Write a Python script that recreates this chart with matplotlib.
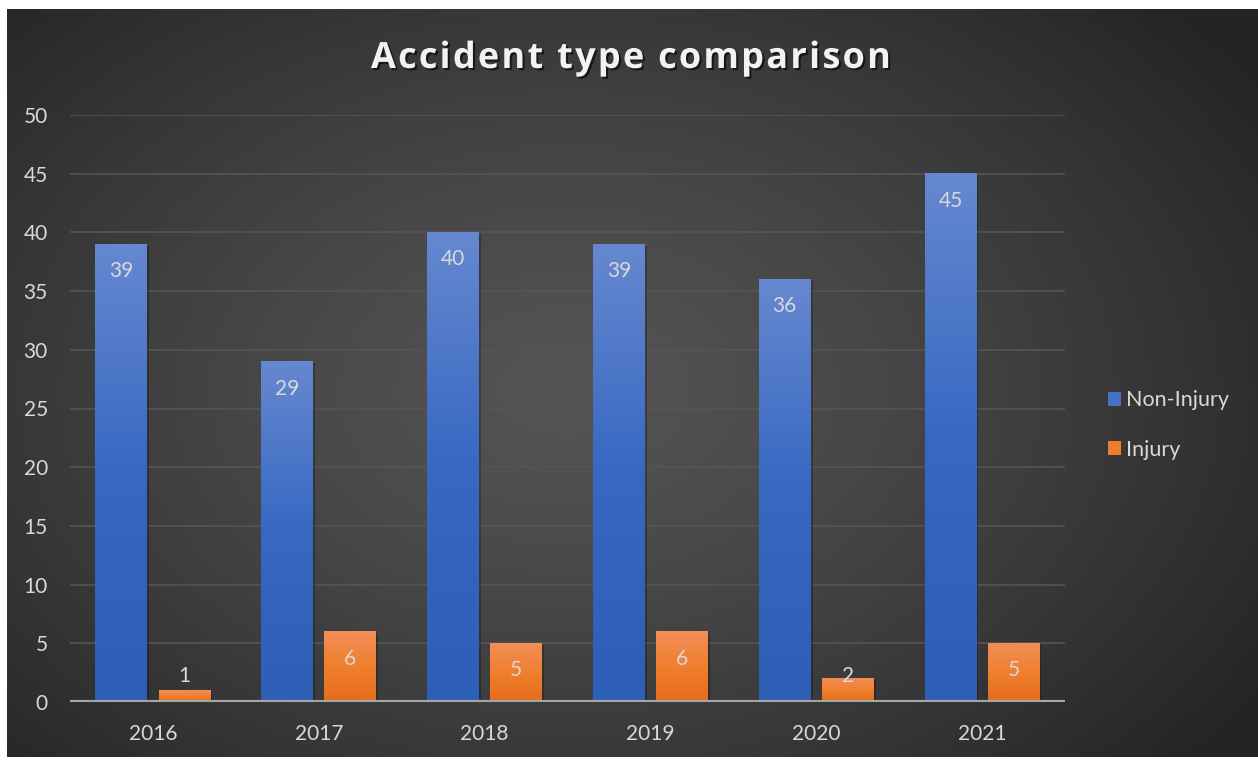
import matplotlib
matplotlib.use("Agg")
import matplotlib.pyplot as plt
import matplotlib.patheffects as pe
import numpy as np
from matplotlib.colors import LinearSegmentedColormap
from matplotlib.font_manager import FontProperties

# data
years = ["2016", "2017", "2018", "2019", "2020", "2021"]
non_injury = [39, 29, 40, 39, 36, 45]
injury = [1, 6, 5, 6, 2, 5]
series_names = ["Non-Injury", "Injury"]
title = "Accident type comparison"

W, H = 1258, 763
plt.rcParams['font.family'] = ['Lato', 'DejaVu Sans']
txt_col = '#d9d9d9'

fig = plt.figure(figsize=(W / 100, H / 100), dpi=100)
fig.patch.set_facecolor('white')

# dark radial background panel
bg = fig.add_axes([7 / W, 6 / H, (W - 7) / W, 748 / H])
bg.axis('off')
yy, xx = np.mgrid[0:748, 0:W - 7]
d = np.sqrt(((xx - 560) / 820.) ** 2 + ((yy - 380) / 560.) ** 2)
d = np.clip(d, 0, 1) ** 1.3
c0, c1 = np.array([0x54, 0x54, 0x54]) / 255., np.array([0x25, 0x25, 0x25]) / 255.
img = c0[None, None, :] * (1 - d[..., None]) + c1[None, None, :] * d[..., None]
bg.imshow(img, aspect='auto', extent=[0, 1, 0, 1], origin='upper')
bg.set_xlim(0, 1)
bg.set_ylim(0, 1)

# plot area
ax = fig.add_axes([70 / W, (H - 702) / H, 995 / W, 587 / H])
ax.patch.set_alpha(0)
x = np.arange(len(years))
bw = 0.3125
off = 0.19

blue_cmap = LinearSegmentedColormap.from_list('b', ['#2e5fb7', '#3768c2', '#6688d0'])
orange_cmap = LinearSegmentedColormap.from_list('o', ['#e56c1a', '#f07f2e', '#f28e58'])

b1 = ax.bar(x - off, non_injury, bw, color='#4472c4', zorder=3, label=series_names[0])
b2 = ax.bar(x + off, injury, bw, color='#ed7d31', zorder=3, label=series_names[1])

grad = np.linspace(0, 1, 256)[:, None]
for bars, cmap in ((b1, blue_cmap), (b2, orange_cmap)):
    for p in bars:
        x0, w, h = p.get_x(), p.get_width(), p.get_height()
        # soft shadow
        ax.add_patch(plt.Rectangle((x0 + 0.012, 0), w, h - 0.15, color='black',
                                   alpha=0.25, zorder=2, lw=0))
        ax.imshow(grad, cmap=cmap, aspect='auto', origin='lower',
                  extent=[x0, x0 + w, 0, h], zorder=4)

ax.set_xlim(-0.5, len(years) - 0.5)
ax.set_ylim(0, 50)

# gridlines and axis line
for v in range(5, 51, 5):
    ax.axhline(v, color='#555555', lw=1.2, zorder=1)
ax.axhline(0, color='#a6a6a6', lw=3, zorder=5)

for s in ax.spines.values():
    s.set_visible(False)
ax.set_yticks(range(0, 51, 5))
ax.set_xticks(x)
ax.set_xticklabels(years)
ax.tick_params(axis='both', length=0, colors=txt_col, labelsize=15)
ax.tick_params(axis='y', pad=16)
ax.tick_params(axis='x', pad=16)

# data labels (inside end)
for xs, vals in ((x - off, non_injury), (x + off, injury)):
    for xi, v in zip(xs, vals):
        ax.text(xi, max(v - 2.3, 2.2), str(v), ha='center', va='center',
                color=txt_col, fontsize=15, zorder=6)

# letter-spaced title
renderer = fig.canvas.get_renderer()
fp = FontProperties(family=['Open Sans', 'DejaVu Sans'], weight='bold', size=26)
widths = [renderer.get_text_width_height_descent(ch, fp, ismath=False)[0] for ch in title]
left, right = 371, 891
gap = (right - left - sum(widths)) / (len(title) - 1)
cx = left
for ch, w in zip(title, widths):
    fig.text(cx / W, (H - 68) / H, ch, fontproperties=fp, color='#f2f2f2',
             ha='left', va='baseline',
             path_effects=[pe.SimplePatchShadow(offset=(1.5, -1.5), shadow_rgbFace='black', alpha=0.6),
                           pe.Normal()])
    cx += w + gap

# legend
fig.legend(handles=[b1, b2], labels=series_names, loc='center left',
           bbox_to_anchor=(1089 / W, (H - 425) / H), frameon=False,
           handlelength=0.6, handleheight=0.6, handletextpad=0.22,
           labelspacing=1.35, fontsize=15.5, labelcolor=txt_col)

fig.savefig('out.png', dpi=100, facecolor='white')
